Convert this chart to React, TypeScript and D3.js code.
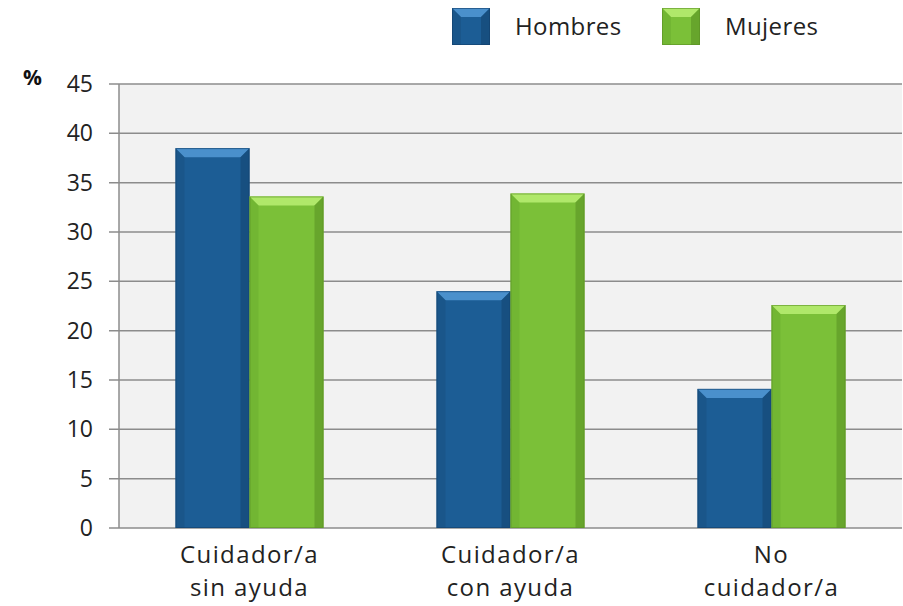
import React from "react";
import * as d3 from "d3";

const categories = [["Cuidador/a", "sin ayuda"], ["Cuidador/a", "con ayuda"], ["No", "cuidador/a"]];
const seriesNames = ["Hombres", "Mujeres"];
const hombres = [38.5, 24.0, 14.1];
const mujeres = [33.6, 33.9, 22.6];
const yTicks = [0, 5, 10, 15, 20, 25, 30, 35, 40, 45];

const W = 903, H = 606;
const left = 119, right = 902, top = 84, bottom = 528;

const palette = [
  { main: "#1c5d95", light: "#4a90cc", dark: "#154a78", side: "#17507f", edge: "#12406a" },
  { main: "#7bc038", light: "#b0e86a", dark: "#5f9a28", side: "#6aab2e", edge: "#5a9024" },
];

function BevelRect({ x, y, w, h, c }: { x: number; y: number; w: number; h: number; c: any }) {
  const b = Math.min(9, h / 2, w / 2);
  return (
    <g>
      <rect x={x} y={y} width={w} height={h} fill={c.main} />
      <polygon points={`${x},${y} ${x + w},${y} ${x + w - b},${y + b} ${x + b},${y + b}`} fill={c.light} />
      <polygon points={`${x},${y} ${x + b},${y + b} ${x + b},${y + h} ${x},${y + h}`} fill={c.side} opacity={0.5} />
      <polygon points={`${x + w},${y} ${x + w - b},${y + b} ${x + w - b},${y + h} ${x + w},${y + h}`} fill={c.dark} opacity={0.7} />
      <rect x={x + 0.5} y={y + 0.5} width={w - 1} height={h - 1} fill="none" stroke={c.edge} strokeWidth={1} opacity={0.6} />
    </g>
  );
}

export default function App() {
  const x0 = d3.scaleBand<number>().domain(d3.range(categories.length)).range([left, right]).paddingInner(0.433).paddingOuter(0.2165);
  const x1 = d3.scaleBand<number>().domain([0, 1]).range([0, x0.bandwidth()]);
  const y = d3.scaleLinear().domain([0, 45]).range([bottom, top]);
  const series = [hombres, mujeres];
  const font = "'Open Sans', 'Liberation Sans', sans-serif";

  return (
    <svg width={W} height={H} style={{ position: "absolute", left: 0, top: 0 }} fontFamily={font}>
      <rect x={0} y={0} width={W} height={H} fill="#ffffff" />
      <rect x={left} y={top} width={right - left} height={bottom - top} fill="#f2f2f2" />
      {yTicks.map((t) => (
        <g key={t}>
          <line x1={left - 10} x2={right} y1={y(t)} y2={y(t)} stroke="#8c8c8c" strokeWidth={1.5} />
          <text x={93} y={y(t)} dy="0.35em" textAnchor="end" fontSize={23} fill="#222">{t}</text>
        </g>
      ))}
      <line x1={left} x2={left} y1={top} y2={bottom} stroke="#8c8c8c" strokeWidth={1.5} />
      <text x={23} y={85} fontSize={21} fontWeight="bold" fill="#111">%</text>
      {categories.map((cat, i) => (
        <g key={i}>
          {series.map((s, j) => (
            <BevelRect key={j} x={x0(i)! + x1(j)!} y={y(s[i])} w={x1.bandwidth()} h={bottom - y(s[i])} c={palette[j]} />
          ))}
          <text x={x0(i)! + x0.bandwidth() / 2} textAnchor="middle" fontSize={24} letterSpacing={1.4} fill="#222">
            <tspan x={x0(i)! + x0.bandwidth() / 2} y={563}>{cat[0]}</tspan>
            <tspan x={x0(i)! + x0.bandwidth() / 2} y={596}>{cat[1]}</tspan>
          </text>
        </g>
      ))}
      {seriesNames.map((n, j) => {
        const lx = j === 0 ? 452 : 662;
        return (
          <g key={n}>
            <BevelRect x={lx} y={8} w={38} h={37} c={palette[j]} />
            <text x={lx + 63} y={27} dy="0.35em" fontSize={24} letterSpacing={0.4} fill="#222">{n}</text>
          </g>
        );
      })}
    </svg>
  );
}
